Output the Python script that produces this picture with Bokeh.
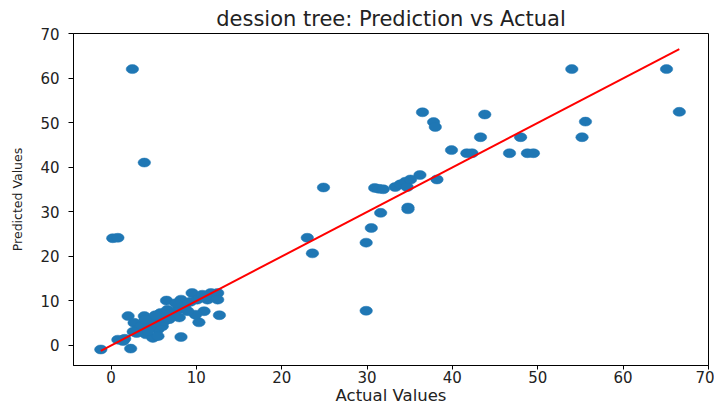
from bokeh.plotting import figure
from bokeh.models import ColumnDataSource, Range1d, FixedTicker
from bokeh.embed import file_html
from bokeh.resources import INLINE

# Actual vs predicted values
actual = [2.5, 3.9, 0.2, 0.8, 24.9, 23.0, 23.6, 29.9, 29.9, 30.5,
          30.9, 31.4, 31.9, 31.6, 33.3, 33.9, 34.5, 34.7, 35.1, 36.2,
          34.8, 34.8, 36.5, 37.8, 38.0, 38.2, 39.9, 41.7, 42.3, 43.3,
          43.8, 46.7, 48.0, 48.8, 49.5, 54.0, 55.2, 55.6, 65.1, 66.6,
          -1.2, 2.3, 8.2, 12.7, 10.3, 10.9, 9.9, 6.5, 9.5, 8.2,
          2.0, 0.8, 1.6, 1.4, 11.7, 12.5, 11.3, 12.5, 2.7, 3.1,
          3.9, 4.1, 4.7, 4.9, 5.5, 6.0, 5.8, 6.6, 7.2, 7.8,
          8.6, 9.0, 6.2, 4.5, 5.1, 3.5, 7.6, 10.1, 10.7, 5.5,
          4.3, 3.0, 5.9, 7.0, 8.0, 9.3, 6.8, 11.0, 4.0, 2.6, 5.2]
predicted = [62.1, 41.1, 24.1, 24.2, 35.5, 24.2, 20.7, 7.8, 23.1, 26.4,
             35.4, 35.2, 35.1, 29.8, 35.6, 36.2, 36.8, 35.6, 37.3, 38.3,
             31.0, 30.6, 52.4, 50.2, 49.1, 37.3, 43.9, 43.2, 43.2, 46.8,
             51.9, 43.2, 46.8, 43.2, 43.2, 62.1, 46.8, 50.3, 62.1, 52.5,
             -0.9, -0.7, 1.9, 6.8, 5.2, 7.7, 6.9, 10.1, 11.8, 10.3,
             6.6, 1.3, 1.5, 1.0, 11.8, 11.8, 10.3, 10.3, 5.1, 3.6,
             6.6, 2.5, 5.4, 1.7, 3.6, 4.3, 7.3, 8.0, 6.6, 8.0,
             8.8, 7.7, 5.4, 4.0, 5.1, 4.3, 9.5, 10.3, 11.4, 2.1,
             3.2, 2.8, 6.2, 7.2, 6.3, 9.8, 5.9, 10.8, 5.8, 3.1, 6.8]

x_ticks = [0, 10, 20, 30, 40, 50, 60, 70]
y_ticks = [0, 10, 20, 30, 40, 50, 60, 70]

title_text = "dession tree: Prediction vs Actual"
x_label = "Actual Values"
y_label = "Predicted Values"

FONT = "DejaVu Sans"
TXT = "#222222"

p = figure(width=714, height=407, output_backend="svg", toolbar_location=None,
           x_range=Range1d(-4.4, 70.02), y_range=Range1d(-4.5, 70.1),
           title=title_text)
p.min_border_left = 73
p.min_border_right = 6
p.min_border_top = 33
p.min_border_bottom = 41

p.title.align = "center"
p.title.text_font = FONT
p.title.text_font_size = "21px"
p.title.text_font_style = "normal"
p.title.text_color = TXT
p.title.standoff = 5

p.grid.visible = False
p.outline_line_color = "black"
p.outline_line_width = 1
p.outline_line_alpha = 1
p.background_fill_color = "white"
p.border_fill_color = "white"

src = ColumnDataSource(dict(x=actual, y=predicted))
p.ellipse(x="x", y="y", width=12.5, height=9, width_units="screen",
          height_units="screen", source=src, fill_color="#1f77b4",
          line_color="#1f77b4", line_width=0.5)

lo, hi = min(actual), max(actual)
p.line([lo, hi], [lo, hi], line_color="red", line_width=2)

for ax, ticks in ((p.xaxis, x_ticks), (p.yaxis, y_ticks)):
    ax.ticker = FixedTicker(ticks=ticks)
    ax.minor_tick_line_color = None
    ax.major_tick_in = 0
    ax.axis_line_color = "black"
    ax.major_tick_line_color = "black"
    ax.major_label_text_font = FONT
    ax.major_label_text_color = TXT
    ax.axis_label_text_font = FONT
    ax.axis_label_text_font_style = "normal"
    ax.axis_label_text_color = TXT

p.xaxis.major_tick_out = 4
p.xaxis.major_label_standoff = 1
p.xaxis.major_label_text_font_size = "15px"
p.xaxis.axis_label = x_label
p.xaxis.axis_label_text_font_size = "16.5px"
p.xaxis.axis_label_standoff = 0

p.yaxis.major_tick_out = 5
p.yaxis.major_label_standoff = 9
p.yaxis.major_label_text_font_size = "15px"
p.yaxis.axis_label = y_label
p.yaxis.axis_label_text_font_size = "12.5px"
p.yaxis.axis_label_standoff = 12

open("out.html", "w").write(file_html(p, INLINE))
